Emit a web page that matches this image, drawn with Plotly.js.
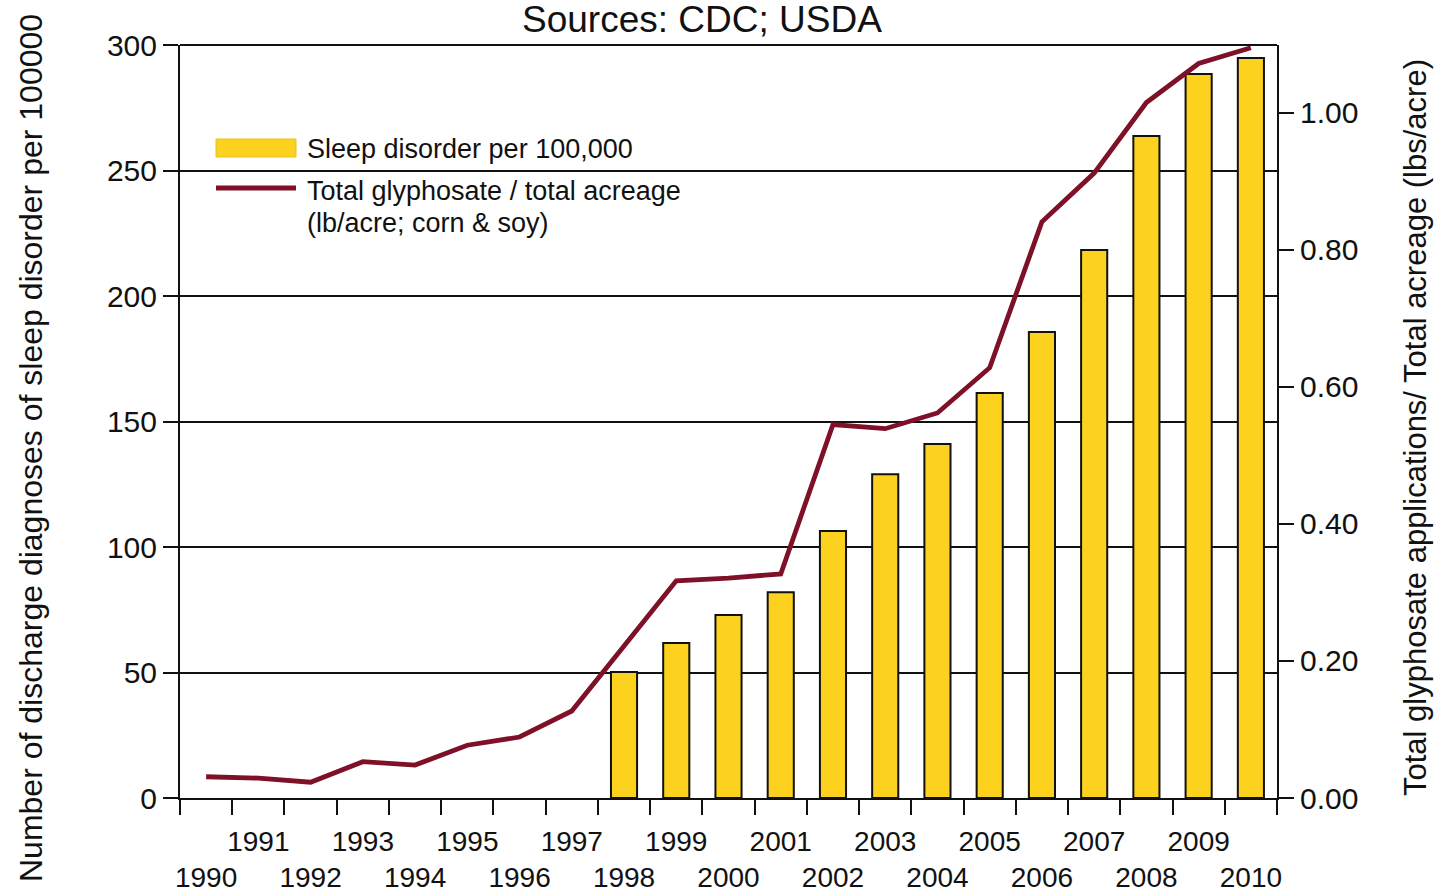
<!DOCTYPE html>
<html>
<head>
<meta charset="utf-8">
<script src="https://cdn.plot.ly/plotly-3.0.1.min.js"></script>
<style>html,body{margin:0;padding:0;background:#fff;}#chart{width:1435px;height:893px;}</style>
</head>
<body>
<div id="chart"></div>
<script>
// ---- data ----
const lineYears = [1990,1991,1992,1993,1994,1995,1996,1997,1998,1999,2000,2001,2002,2003,2004,2005,2006,2007,2008,2009,2010];
const glyphosate = [0.031,0.029,0.023,0.053,0.048,0.077,0.089,0.127,0.222,0.317,0.321,0.327,0.545,0.539,0.562,0.628,0.841,0.912,1.015,1.072,1.095];
const barYears = [1998,1999,2000,2001,2002,2003,2004,2005,2006,2007,2008,2009,2010];
const sleepDisorder = [50.2,61.8,72.9,82.0,106.4,129.0,141.0,161.4,185.7,218.3,263.7,288.4,294.8];
const tickYears = lineYears;
const tickLabels = tickYears.map(y => (y % 2 === 1 ? String(y) : '<br>' + y));
const rightTicks = [0, 0.2, 0.4, 0.6, 0.8, 1.0];

const FONT = 'Liberation Sans, Arial, sans-serif';
const barColor = '#FDD21E';
const lineColor = '#7E1028';

const traces = [
  {
    type: 'bar', x: barYears, y: sleepDisorder, width: 0.5,
    name: 'Sleep disorder per 100,000',
    marker: {color: barColor, line: {color: '#111', width: 2}},
    yaxis: 'y', showlegend: false, hoverinfo: 'x+y'
  },
  {
    type: 'scatter', mode: 'lines', x: lineYears, y: glyphosate,
    name: 'Total glyphosate / total acreage (lb/acre; corn & soy)',
    line: {color: lineColor, width: 4.8},
    yaxis: 'y2', showlegend: false
  }
];

const px = v => (v - 180) / 1097;   // paper x from pixel
const py = v => (798 - v) / 753;    // paper y from pixel

const layout = {
  width: 1435, height: 893,
  margin: {l: 180, r: 158, t: 45, b: 95},
  paper_bgcolor: '#fff', plot_bgcolor: '#fff',
  font: {family: FONT, color: '#111', size: 28},
  showlegend: false,
  xaxis: {
    range: [1989.5, 2010.5],
    tickmode: 'array', tickvals: tickYears, ticktext: tickLabels, tickangle: 0,
    ticks: 'outside', ticklen: 15, tickcolor: 'rgba(0,0,0,0)',
    ticklabelstandoff: 2,
    tickfont: {size: 28, family: FONT, color: '#111'},
    showline: true, linecolor: '#111', linewidth: 2,
    showgrid: false, zeroline: false,
    minor: {tick0: 1989.5, dtick: 1, ticks: 'outside', ticklen: 15, tickwidth: 2, tickcolor: '#111', showgrid: false}
  },
  yaxis: {
    range: [0, 300], dtick: 50, tick0: 0,
    ticks: 'outside', ticklen: 15, tickwidth: 2, tickcolor: '#111',
    tickfont: {size: 30, family: FONT, color: '#111'},
    showline: true, linecolor: '#111', linewidth: 2,
    showgrid: true, gridcolor: '#111', gridwidth: 2,
    zeroline: false
  },
  yaxis2: {
    overlaying: 'y', side: 'right', range: [0, 1.099],
    tickmode: 'array', tickvals: rightTicks, tickformat: '.2f',
    ticks: 'outside', ticklen: 15, tickwidth: 2, tickcolor: '#111',
    tickfont: {size: 30, family: FONT, color: '#111'},
    showline: true, linecolor: '#111', linewidth: 2,
    showgrid: false, zeroline: false
  },
  shapes: [
    {type: 'line', xref: 'paper', yref: 'paper', x0: 0, x1: 1, y0: 1, y1: 1, line: {color: '#111', width: 2}},
    {type: 'rect', xref: 'paper', yref: 'paper',
     x0: px(216), x1: px(296), y0: py(157), y1: py(139),
     fillcolor: barColor, line: {color: '#E8C21A', width: 1}},
    {type: 'line', xref: 'paper', yref: 'paper',
     x0: px(216), x1: px(296), y0: py(188), y1: py(188),
     line: {color: lineColor, width: 5}}
  ],
  annotations: [
    {text: 'Sources: CDC; USDA', xref: 'paper', yref: 'paper', x: px(702), y: py(19),
     xanchor: 'center', yanchor: 'middle', showarrow: false, font: {size: 37, family: FONT, color: '#111'}},
    {text: 'Number of discharge diagnoses of sleep disorder per 100000', xref: 'paper', yref: 'paper',
     x: px(31), y: py(448), textangle: -90, xanchor: 'center', yanchor: 'middle', showarrow: false,
     font: {size: 32, family: FONT, color: '#111'}},
    {text: 'Total glyphosate applications/ Total acreage (lbs/acre)', xref: 'paper', yref: 'paper',
     x: px(1415), y: py(428), textangle: -90, xanchor: 'center', yanchor: 'middle', showarrow: false,
     font: {size: 31, family: FONT, color: '#111'}},
    {text: 'Sleep disorder per 100,000', xref: 'paper', yref: 'paper', x: px(305), y: py(149),
     xanchor: 'left', yanchor: 'middle', showarrow: false, font: {size: 27, family: FONT, color: '#111'}},
    {text: 'Total glyphosate / total acreage', xref: 'paper', yref: 'paper', x: px(305), y: py(191),
     xanchor: 'left', yanchor: 'middle', showarrow: false, font: {size: 27, family: FONT, color: '#111'}},
    {text: '(lb/acre; corn &amp; soy)', xref: 'paper', yref: 'paper', x: px(305), y: py(223),
     xanchor: 'left', yanchor: 'middle', showarrow: false, font: {size: 27, family: FONT, color: '#111'}}
  ]
};

Plotly.newPlot('chart', traces, layout, {displayModeBar: false, staticPlot: true});
</script>
</body>
</html>
